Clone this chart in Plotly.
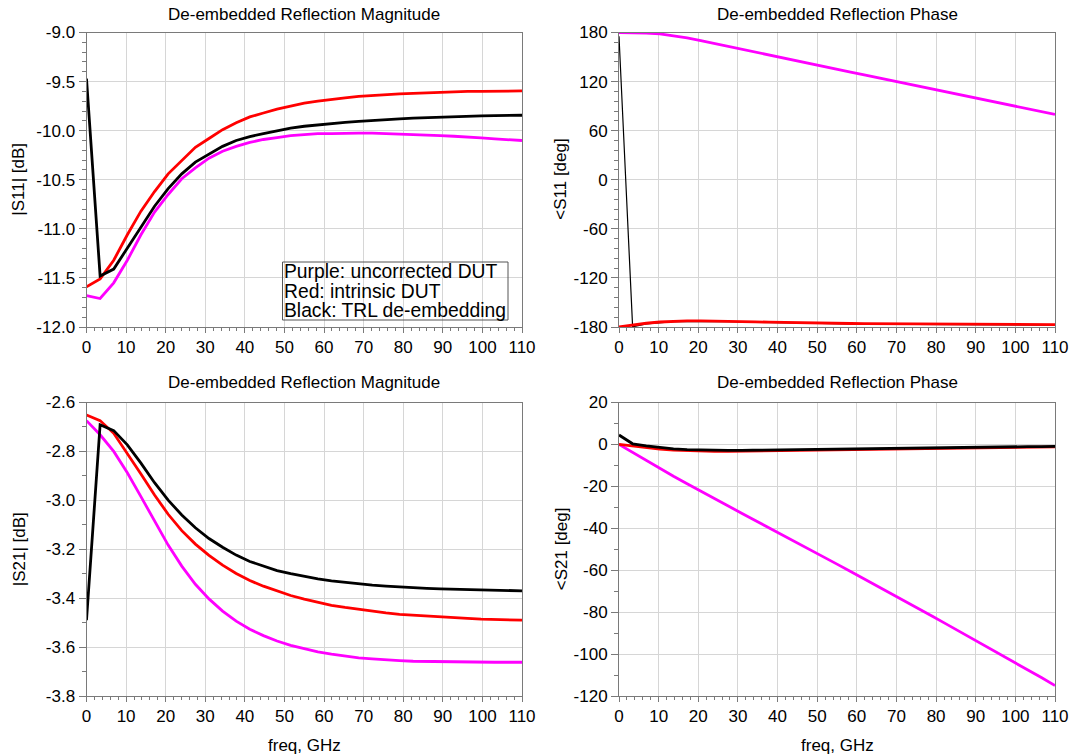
import plotly.graph_objects as go

# Frequency sweep (GHz)
freq_ghz = [0, 3.4375, 6.875, 10.3125, 13.75, 17.1875, 20.625, 24.0625, 27.5, 30.9375,
            34.375, 37.8125, 41.25, 44.6875, 48.125, 51.5625, 55, 58.4375, 61.875,
            65.3125, 68.75, 72.1875, 75.625, 79.0625, 82.5, 85.9375, 89.375, 92.8125,
            96.25, 99.6875, 103.125, 106.5625, 110]

# |S11| in dB
s11_db_uncorrected = [-11.68, -11.71, -11.55, -11.32, -11.06, -10.83, -10.65, -10.49, -10.38,
                      -10.28, -10.21, -10.16, -10.12, -10.09, -10.07, -10.05, -10.04, -10.03,
                      -10.03, -10.026, -10.026, -10.026, -10.03, -10.033, -10.036, -10.043,
                      -10.05, -10.057, -10.063, -10.074, -10.084, -10.094, -10.10]
s11_db_intrinsic = [-11.59, -11.51, -11.32, -11.06, -10.82, -10.62, -10.44, -10.30, -10.17,
                    -10.08, -9.99, -9.92, -9.86, -9.82, -9.78, -9.75, -9.72, -9.70, -9.68,
                    -9.665, -9.65, -9.64, -9.632, -9.625, -9.62, -9.614, -9.61, -9.605, -9.60,
                    -9.60, -9.597, -9.595, -9.595]
s11_db_trl = [-9.47, -11.48, -11.41, -11.20, -10.98, -10.77, -10.59, -10.44, -10.32, -10.24,
              -10.16, -10.10, -10.06, -10.03, -10.00, -9.975, -9.955, -9.94, -9.925, -9.915,
              -9.905, -9.895, -9.887, -9.88, -9.873, -9.867, -9.863, -9.856, -9.853, -9.85,
              -9.846, -9.843, -9.843]

# <S11 in degrees
s11_deg_uncorrected = [180.0, 179.9, 179.4, 178.2, 176.1, 173.3, 170.0, 166.6, 163.1, 159.4,
                       155.9, 152.4, 149.0, 145.5, 142.0, 138.6, 135.1, 131.7, 128.2, 124.8,
                       121.3, 117.9, 114.4, 111.0, 107.5, 104.1, 100.6, 97.2, 93.7, 90.3,
                       86.8, 83.4, 79.9]
s11_deg_intrinsic = [-180.0, -177.6, -175.4, -173.9, -173.0, -172.6, -172.5, -172.6, -172.9,
                     -173.3, -173.7, -174.1, -174.5, -174.8, -175.1, -175.3, -175.5, -175.7,
                     -175.9, -176.0, -176.2, -176.3, -176.4, -176.5, -176.6, -176.7, -176.8,
                     -176.8, -176.9, -176.9, -177.0, -177.0, -177.0]
s11_deg_trl = [175.5, -179.8, -176.2, -174.5, -173.6, -173.2, -173.1, -173.2, -173.5, -173.9,
               -174.3, -174.7, -175.1, -175.4, -175.7, -175.9, -176.1, -176.3, -176.5, -176.6,
               -176.8, -176.9, -177.0, -177.1, -177.2, -177.3, -177.4, -177.4, -177.5, -177.5,
               -177.6, -177.6, -177.6]

# |S21| in dB
s21_db_uncorrected = [-2.674, -2.732, -2.80, -2.887, -2.985, -3.087, -3.183, -3.269, -3.343,
                      -3.403, -3.453, -3.494, -3.527, -3.553, -3.575, -3.593, -3.608, -3.620,
                      -3.629, -3.638, -3.644, -3.648, -3.653, -3.655, -3.658, -3.659, -3.661,
                      -3.662, -3.662, -3.662, -3.662, -3.662, -3.662]
s21_db_intrinsic = [-2.651, -2.674, -2.726, -2.808, -2.892, -2.978, -3.057, -3.124, -3.179,
                    -3.225, -3.265, -3.299, -3.328, -3.351, -3.371, -3.389, -3.404, -3.418,
                    -3.429, -3.438, -3.446, -3.453, -3.460, -3.466, -3.470, -3.474, -3.478,
                    -3.481, -3.483, -3.486, -3.487, -3.489, -3.490]
s21_db_trl = [-3.490, -2.691, -2.715, -2.773, -2.848, -2.928, -2.999, -3.060, -3.112, -3.156,
              -3.192, -3.224, -3.250, -3.270, -3.287, -3.300, -3.311, -3.321, -3.329, -3.336,
              -3.341, -3.347, -3.351, -3.355, -3.358, -3.360, -3.362, -3.363, -3.365, -3.366,
              -3.367, -3.369, -3.370]

# <S21 in degrees
s21_deg_uncorrected = [0.0, -3.9, -7.8, -11.5, -15.2, -18.8, -22.4, -25.9, -29.4, -32.8,
                       -36.3, -39.7, -43.1, -46.6, -50.1, -53.6, -57.1, -60.6, -64.1, -67.7,
                       -71.2, -74.8, -78.4, -82.0, -85.6, -89.2, -92.8, -96.4, -100.0, -103.7,
                       -107.4, -111.2, -115.0]
s21_deg_intrinsic = [0.0, -0.8, -1.6, -2.2, -2.7, -3.0, -3.2, -3.3, -3.3, -3.2, -3.1, -3.0,
                     -2.9, -2.8, -2.7, -2.6, -2.5, -2.4, -2.3, -2.2, -2.1, -2.0, -1.9, -1.8,
                     -1.7, -1.6, -1.5, -1.45, -1.4, -1.3, -1.25, -1.2, -1.15]
s21_deg_trl = [4.5, 0.3, -0.7, -1.5, -2.1, -2.5, -2.7, -2.8, -2.8, -2.8, -2.7, -2.6, -2.5,
               -2.4, -2.3, -2.2, -2.1, -2.0, -1.9, -1.85, -1.8, -1.7, -1.6, -1.5, -1.45,
               -1.4, -1.3, -1.25, -1.2, -1.1, -1.05, -1.0, -0.95]

# Axis tick labels
freq_ticks = [0, 10, 20, 30, 40, 50, 60, 70, 80, 90, 100, 110]
freq_tick_text = ["0", "10", "20", "30", "40", "50", "60", "70", "80", "90", "100", "110"]
s11_db_ticks = [-12.0, -11.5, -11.0, -10.5, -10.0, -9.5, -9.0]
s11_db_tick_text = ["-12.0", "-11.5", "-11.0", "-10.5", "-10.0", "-9.5", "-9.0"]
s11_deg_ticks = [-180, -120, -60, 0, 60, 120, 180]
s11_deg_tick_text = ["-180", "-120", "-60", "0", "60", "120", "180"]
s21_db_ticks = [-3.8, -3.6, -3.4, -3.2, -3.0, -2.8, -2.6]
s21_db_tick_text = ["-3.8", "-3.6", "-3.4", "-3.2", "-3.0", "-2.8", "-2.6"]
s21_deg_ticks = [-120, -100, -80, -60, -40, -20, 0, 20]
s21_deg_tick_text = ["-120", "-100", "-80", "-60", "-40", "-20", "0", "20"]

W, H = 1073, 755
FONT = "Liberation Sans, Arial, sans-serif"
MAGENTA, RED, BLACK = "#ff00ff", "#ff0000", "#000000"
FRAME = "#7a7a7a"
GRID = "#d6d6d6"


def fx(px):
    return px / W


def fy(py):
    return 1 - py / H


# panel extents in pixels: (left, right), (top, bottom)
LEFT_X = (86.5, 522.0)
RIGHT_X = (619.0, 1055.0)
TOP_Y = (32.5, 327.0)
BOT_Y = (402.5, 696.0)

fig = go.Figure()

panels = [
    # axis suffix, x extent, y extent, y range, ticks, tick text, minor step
    ("", LEFT_X, TOP_Y, [-12.0, -9.0], s11_db_ticks, s11_db_tick_text, 0.1),
    ("2", RIGHT_X, TOP_Y, [-180, 180], s11_deg_ticks, s11_deg_tick_text, 12),
    ("3", LEFT_X, BOT_Y, [-3.8, -2.6], s21_db_ticks, s21_db_tick_text, 0.1),
    ("4", RIGHT_X, BOT_Y, [-120, 20], s21_deg_ticks, s21_deg_tick_text, 10),
]

for suffix, (x0, x1), (y0, y1), yrange, yticks, ytext, ymin in panels:
    fig.layout["xaxis" + suffix] = dict(
        domain=[fx(x0), fx(x1)], anchor="y" + suffix, range=[0, 110],
        automargin=False,
        tickmode="array", tickvals=freq_ticks, ticktext=freq_tick_text,
        showline=True, mirror=True, linecolor=FRAME, linewidth=1,
        ticks="outside", ticklen=5, tickcolor=FRAME, tickwidth=1,
        showgrid=True, gridcolor=GRID, gridwidth=1, zeroline=False,
        tickfont=dict(family=FONT, size=17, color="#000000"),
        minor=dict(dtick=2, tick0=0, ticks="outside", ticklen=3, tickcolor=FRAME,
                   showgrid=False),
    )
    fig.layout["yaxis" + suffix] = dict(
        domain=[fy(y1), fy(y0)], anchor="x" + suffix, range=yrange,
        automargin=False,
        tickmode="array", tickvals=yticks, ticktext=ytext,
        showline=True, mirror=True, linecolor=FRAME, linewidth=1,
        ticks="outside", ticklen=7, tickcolor=FRAME, tickwidth=1,
        showgrid=True, gridcolor=GRID, gridwidth=1, zeroline=False,
        tickfont=dict(family=FONT, size=17, color="#000000"),
        minor=dict(dtick=ymin, tick0=yrange[0], ticks="outside", ticklen=4,
                   tickcolor=FRAME, showgrid=False),
    )


def add_line(y, color, axis, width=2.8):
    fig.add_trace(go.Scatter(
        x=freq_ghz, y=y, mode="lines", line=dict(color=color, width=width),
        xaxis="x" + axis, yaxis="y" + axis, showlegend=False, hoverinfo="x+y",
    ))


# S11 magnitude
add_line(s11_db_uncorrected, MAGENTA, "")
add_line(s11_db_intrinsic, RED, "")
add_line(s11_db_trl, BLACK, "")
# S11 phase (thin TRL trace underneath)
add_line(s11_deg_uncorrected, MAGENTA, "2")
add_line(s11_deg_trl, BLACK, "2", width=1.2)
add_line(s11_deg_intrinsic, RED, "2")
# S21 magnitude
add_line(s21_db_uncorrected, MAGENTA, "3")
add_line(s21_db_intrinsic, RED, "3")
add_line(s21_db_trl, BLACK, "3")
# S21 phase
add_line(s21_deg_uncorrected, MAGENTA, "4")
add_line(s21_deg_intrinsic, RED, "4")
add_line(s21_deg_trl, BLACK, "4")

annotations = []


def text(s, x, y, size=17, xanchor="center", yanchor="middle", angle=0):
    annotations.append(dict(
        text=s, x=fx(x), y=fy(y), xref="paper", yref="paper",
        xanchor=xanchor, yanchor=yanchor, showarrow=False, textangle=angle,
        font=dict(family=FONT, size=size, color="#000000"),
    ))


lc = (LEFT_X[0] + LEFT_X[1]) / 2
rc = (RIGHT_X[0] + RIGHT_X[1]) / 2
text("De-embedded Reflection Magnitude", lc, 14)
text("De-embedded Reflection Phase", rc, 14)
text("De-embedded Reflection Magnitude", lc, 383)
text("De-embedded Reflection Phase", rc, 383)
text("|S11| [dB]", 19, (TOP_Y[0] + TOP_Y[1]) / 2, angle=-90)
text("&lt;S11 [deg]", 561, (TOP_Y[0] + TOP_Y[1]) / 2, angle=-90)
text("|S21| [dB]", 19, (BOT_Y[0] + BOT_Y[1]) / 2, angle=-90)
text("&lt;S21 [deg]", 561, (BOT_Y[0] + BOT_Y[1]) / 2, angle=-90)
text("freq, GHz", lc, 745)
text("freq, GHz", rc, 745)

# Colour key box inside the S11 magnitude panel
key_lines = ["Purple: uncorrected DUT", "Red: intrinsic DUT", "Black: TRL de-embedding"]
for i, s in enumerate(key_lines):
    text(s, 282.0, 272 + 19.2 * i, size=19.3, xanchor="left")

fig.add_shape(type="rect", xref="paper", yref="paper",
              x0=fx(282.5), x1=fx(508.0), y0=fy(320), y1=fy(262),
              line=dict(color="#555555", width=1), fillcolor="rgba(0,0,0,0)")

fig.update_layout(
    width=W, height=H,
    margin=dict(l=0, r=0, t=0, b=0, pad=0, autoexpand=False),
    paper_bgcolor="#ffffff", plot_bgcolor="#ffffff",
    annotations=annotations, showlegend=False,
    font=dict(family=FONT, size=17, color="#000000"),
)

# the page body gets no default margin so the figure sits at the window origin
fig.write_html("out.html", post_script="document.body.style.margin='0';")
